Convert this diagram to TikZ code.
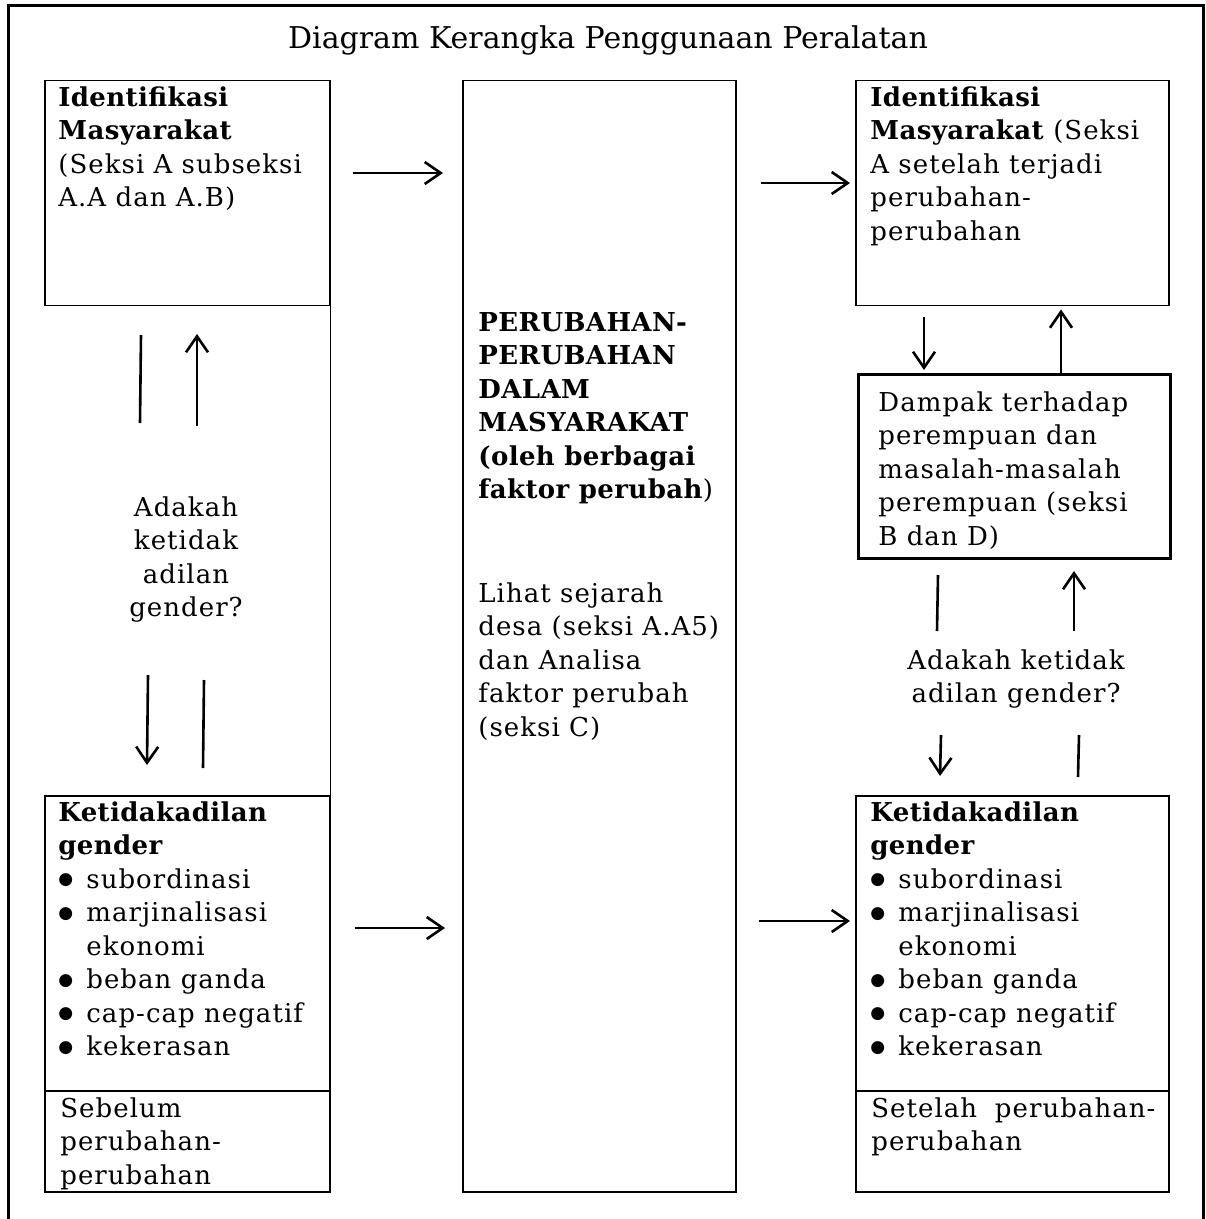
\documentclass[tikz,border=0pt]{standalone}
\usepackage{fontspec}
\setmainfont{DejaVu Serif}[LetterSpace=4, BoldFeatures={LetterSpace=1.5}]
\newfontfamily\titlefont{DejaVu Serif}
\newfontfamily\dotfont{DejaVu Sans}
\usetikzlibrary{arrows.meta, positioning}
\newcommand{\bodyfont}{\fontsize{13pt}{16.75pt}\selectfont}
\newcommand{\itm}{\makebox[14pt][l]{\raisebox{1.8pt}{\dotfont\fontsize{8.5pt}{10pt}\selectfont ●}}}
\tikzset{
	panel/.style     ={rectangle, draw=black, line width=0.75pt, inner sep=0pt, anchor=north west},
	sidepanel/.style ={panel, minimum width=142.5pt},
	rightpanel/.style={panel, minimum width=156.5pt},
	txt/.style       ={inner sep=0pt, anchor=north west, align=left, font=\bodyfont},
	link/.style      ={-{Straight Barb[length=8pt, width=11pt]}, line width=1.3pt},
	plain/.style     ={line width=1.3pt},
}

\begin{document}
\begin{tikzpicture}[x=0.5pt, y=-0.5pt]
	\useasboundingbox (0,0) rectangle (1205,1219);
	\draw[line width=1.5pt] (8,1219) |- (1203,6) -- (1203,1219);
	\node[font=\titlefont\fontsize{15pt}{18pt}\selectfont, inner sep=0pt] (title) at (608,40) {Diagram Kerangka Penggunaan Peralatan};
	% left column
	\node[sidepanel, minimum height=112.5pt] (idL)   at (44,80)   {};
	\node[sidepanel, minimum height=147.5pt] (ktL)   at (44,795)  {};
	\node[sidepanel, minimum height=50.5pt]  (noteL) at (44,1090) {};
	\draw[line width=0.75pt] (idL.south east) -- (ktL.north east);
	\node[txt] (idLtxt) at (58,86) {\textbf{Identifikasi}\\\textbf{Masyarakat}\\(Seksi A subseksi\\A.A dan A.B)};
	\node[txt] (ktLtxt) at (58,801) {\textbf{Ketidakadilan}\\\textbf{gender}\\\itm subordinasi\\\itm marjinalisasi\\\hspace*{14pt}ekonomi\\\itm beban ganda\\\itm cap-cap negatif\\\itm kekerasan};
	\node[txt] (noteLtxt) at (60,1097) {Sebelum\\perubahan-\\perubahan};
	\node[txt, align=center, anchor=north] (askL) at (186,496) {Adakah\\ketidak\\adilan\\gender?};
	% middle column
	\node[panel, minimum width=136.5pt, minimum height=555.5pt] (mid) at (462,80) {};
	\node[txt] (midhead) at (478,312) {\textbf{PERUBAHAN-}\\\textbf{PERUBAHAN}\\\textbf{DALAM}\\\textbf{MASYARAKAT}\\\textbf{(oleh berbagai}\\\textbf{faktor perubah})};
	\node[txt] (midnote) at (478,582) {Lihat sejarah\\desa (seksi A.A5)\\dan Analisa\\faktor perubah\\(seksi C)};
	% right column
	\node[rightpanel, minimum height=112.5pt] (idR)   at (855,80)   {};
	\node[panel, line width=1.5pt, minimum width=156pt, minimum height=92pt] (dampak) at (857,373) {};
	\node[rightpanel, minimum height=147.5pt] (ktR)   at (855,795)  {};
	\node[rightpanel, minimum height=50.5pt]  (noteR) at (855,1090) {};
	\node[txt] (idRtxt) at (870,86) {\textbf{Identifikasi}\\\textbf{Masyarakat} (Seksi\\A setelah terjadi\\perubahan-\\perubahan};
	\node[txt] (dampaktxt) at (878,391) {Dampak terhadap\\perempuan dan\\masalah-masalah\\perempuan (seksi\\B dan D)};
	\node[txt, align=center, anchor=north] (askR) at (1016,649) {Adakah ketidak\\adilan gender?};
	\node[txt] (ktRtxt) at (870,801) {\textbf{Ketidakadilan}\\\textbf{gender}\\\itm subordinasi\\\itm marjinalisasi\\\hspace*{14pt}ekonomi\\\itm beban ganda\\\itm cap-cap negatif\\\itm kekerasan};
	\node[txt] (noteRtxt) at (871,1097) {\makebox[142pt][s]{Setelah perubahan-}\\perubahan};
	% horizontal links
	\coordinate (r1) at (0,173);
	\coordinate (r2) at (0,183);
	\coordinate (r3) at (0,928);
	\coordinate (r4) at (0,921);
	\draw[link, shorten <=11pt, shorten >=9.5pt] (idL.east |- r1) -- (mid.west |- r1);
	\draw[link, shorten <=12pt, shorten >=2.5pt] (mid.east |- r2) -- (idR.west |- r2);
	\draw[link, shorten <=12pt, shorten >=8.5pt] (ktL.east |- r3) -- (mid.west |- r3);
	\draw[link, shorten <=11pt, shorten >=2.5pt] (mid.east |- r4) -- (ktR.west |- r4);
	% left vertical pairs
	\coordinate (lA1) at (141,335); \coordinate (lA2) at (140,423);
	\coordinate (lB1) at (197,426); \coordinate (lB2) at (197,334);
	\coordinate (lC1) at (148,675); \coordinate (lC2) at (147,765);
	\coordinate (lD1) at (204,680); \coordinate (lD2) at (203,768);
	\draw[plain] (lA1) -- (lA2);
	\draw[link]  (lB1) -- (lB2);
	\draw[link]  (lC1) -- (lC2);
	\draw[plain] (lD1) -- (lD2);
	% right vertical pairs
	\coordinate (c1) at (924,0);
	\coordinate (c2) at (1061,0);
	\draw[link, shorten <=5.5pt, shorten >=1.5pt] (idR.south -| c1) -- (dampak.north -| c1);
	\draw[link, shorten >=1.5pt] (dampak.north -| c2) -- (idR.south -| c2);
	\coordinate (rA1) at (938,575);  \coordinate (rA2) at (937,631);
	\coordinate (rB1) at (1074,631); \coordinate (rB2) at (1074,571);
	\coordinate (rC1) at (941,735);  \coordinate (rC2) at (940,776);
	\coordinate (rD1) at (1079,735); \coordinate (rD2) at (1078,777);
	\draw[plain] (rA1) -- (rA2);
	\draw[link]  (rB1) -- (rB2);
	\draw[link]  (rC1) -- (rC2);
	\draw[plain] (rD1) -- (rD2);
\end{tikzpicture}
\end{document}
